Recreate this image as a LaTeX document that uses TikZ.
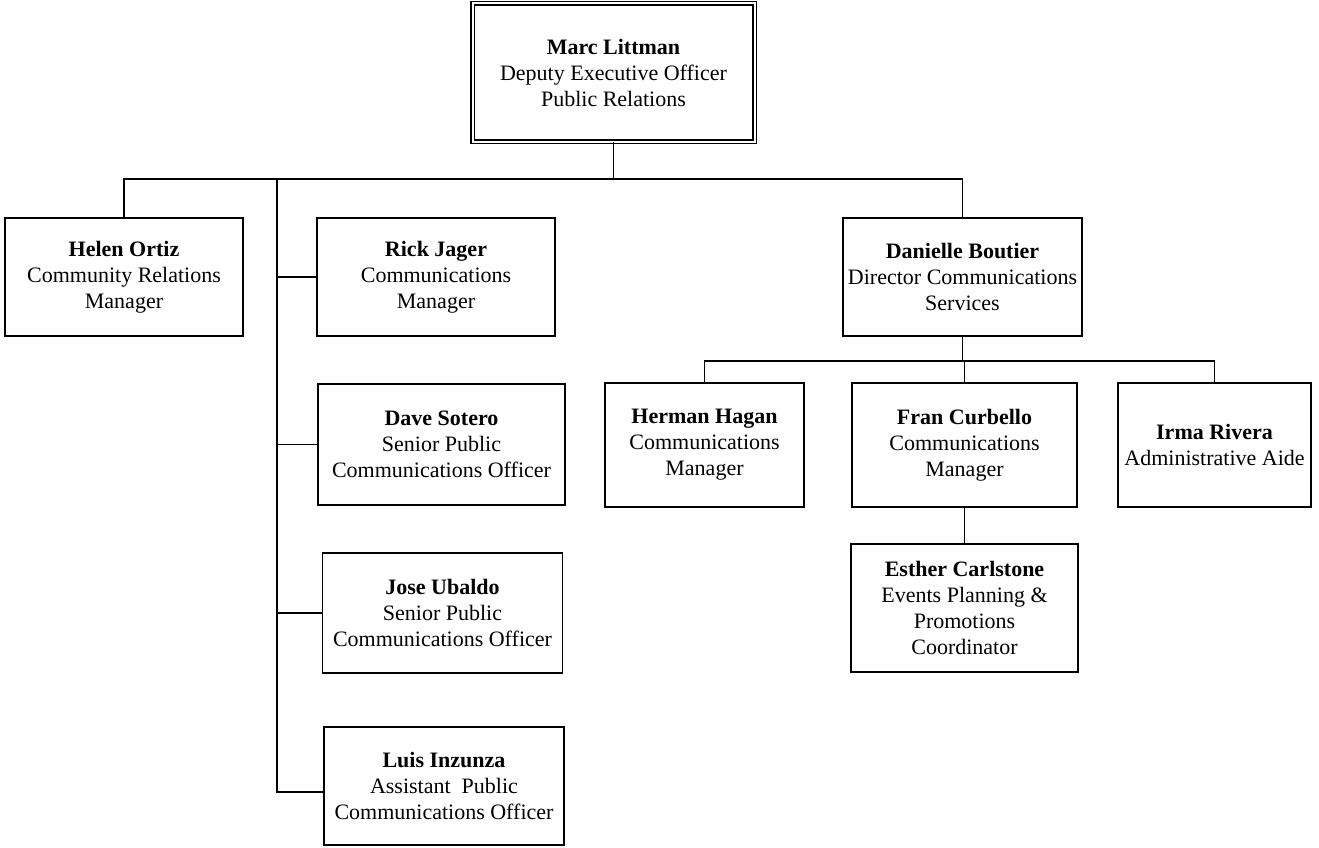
\documentclass[tikz,border=0pt]{standalone}
\usepackage{fontspec}
\setmainfont{Liberation Serif}
\usetikzlibrary{calc}
\begin{document}
\begin{tikzpicture}[x=1pt,y=-1pt,
  box/.style={draw, line width=1.8pt, align=center, inner sep=0pt,
    font=\fontsize{22}{26}\selectfont},
  topbox/.style={box, line width=1.6pt, double, double distance=2pt},
  conn/.style={line width=1.8pt}]
\useasboundingbox (0,0) rectangle (1319,848);

\node[topbox, minimum width=282, minimum height=138] (top) at (613.5,72.5)
  {\textbf{Marc Littman}\\Deputy Executive Officer\\Public Relations};

\node[box, minimum width=238, minimum height=118] (helen) at (124,277)
  {\textbf{Helen Ortiz}\\Community Relations\\Manager};
\node[box, minimum width=238, minimum height=118] (rick) at (436,277)
  {\textbf{Rick Jager}\\Communications\\Manager};
\node[box, minimum width=247, minimum height=121] (dave) at (441.5,444.5)
  {\textbf{Dave Sotero}\\Senior Public\\Communications Officer};
\node[box, minimum width=240, minimum height=120] (jose) at (442.5,613)
  {\textbf{Jose Ubaldo}\\Senior Public\\Communications Officer};
\node[box, minimum width=240, minimum height=118] (luis) at (444,786)
  {\textbf{Luis Inzunza}\\Assistant\ \ Public\\Communications Officer};
\node[box, minimum width=239, minimum height=118] (danielle) at (962.5,277)
  {\textbf{Danielle Boutier}\\Director Communications\\Services};
\node[box, minimum width=199, minimum height=124] (herman) at (704.5,445)
  {\textbf{Herman Hagan}\\Communications\\Manager};
\node[box, minimum width=225, minimum height=124] (fran) at (964.5,445)
  {\textbf{Fran Curbello}\\Communications\\Manager};
\node[box, minimum width=193, minimum height=124] (irma) at (1214.5,445)
  {\textbf{Irma Rivera}\\Administrative Aide};
\node[box, minimum width=227, minimum height=128] (esther) at (964.5,608)
  {\textbf{Esther Carlstone}\\Events Planning \&\\Promotions\\Coordinator};

\coordinate (bus) at (0,179);
\coordinate (trunk) at (277,179);
\coordinate (luisC) at ($(luis.west)+(0,6)$);
\coordinate (bus2) at (0,361);

\draw[conn] (top.south) -- (top.south |- bus);
\draw[conn] (helen.north) -- (helen.north |- bus) -- (danielle.north |- bus) -- (danielle.north);
\draw[conn] (trunk) -- (trunk |- luisC) -- (luisC);
\draw[conn] (trunk |- rick.west) -- (rick.west);
\draw[conn] (trunk |- dave.west) -- (dave.west);
\draw[conn] (trunk |- jose.west) -- (jose.west);

\draw[conn] (danielle.south) -- (danielle.south |- bus2);
\draw[conn] (herman.north) -- (herman.north |- bus2) -- (irma.north |- bus2) -- (irma.north);
\draw[conn] (fran.north) -- (fran.north |- bus2);
\draw[conn] (fran.south) -- (esther.north);
\end{tikzpicture}
\end{document}
